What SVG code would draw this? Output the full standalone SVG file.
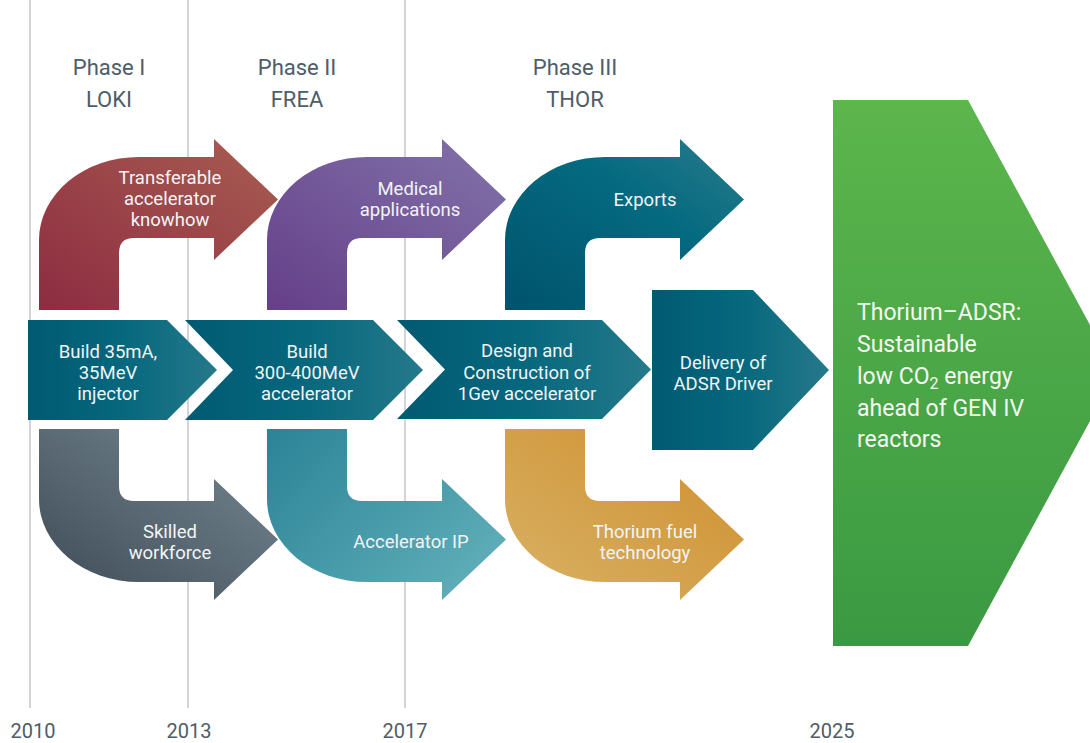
<svg xmlns="http://www.w3.org/2000/svg" width="1090" height="743" viewBox="0 0 1090 743">
<defs>
<style>
text{font-family:Roboto,"Open Sans","Liberation Sans",sans-serif;}
.lbl{fill:#f2f4f6;font-size:18.5px;text-anchor:middle;}
.phase{fill:#4e5d68;font-size:22px;text-anchor:middle;}
.year{fill:#4e5d68;font-size:20px;text-anchor:middle;}
.big{fill:#f4f8f2;font-size:23px;}
.grid{stroke:#c3c6ca;stroke-width:1.5;}
</style>
<linearGradient id="gRed" x1="0" y1="1" x2="1" y2="0"><stop offset="0" stop-color="#8d2c41"/><stop offset="1" stop-color="#a85d51"/></linearGradient>
<linearGradient id="gPur" x1="0" y1="1" x2="1" y2="0"><stop offset="0" stop-color="#653f89"/><stop offset="1" stop-color="#8273aa"/></linearGradient>
<linearGradient id="gTealT" x1="0" y1="1" x2="1" y2="0"><stop offset="0" stop-color="#00526c"/><stop offset="0.6" stop-color="#046a80"/><stop offset="1" stop-color="#2a7b8b"/></linearGradient>
<linearGradient id="gGray" x1="0" y1="1" x2="1" y2="0"><stop offset="0" stop-color="#3e4a55"/><stop offset="1" stop-color="#778a94"/></linearGradient>
<linearGradient id="gTealB" x1="0" y1="0" x2="1" y2="0.7"><stop offset="0" stop-color="#2b8396"/><stop offset="1" stop-color="#5eadb8"/></linearGradient>
<linearGradient id="gGold" x1="0" y1="1" x2="1" y2="0"><stop offset="0" stop-color="#d8b266"/><stop offset="1" stop-color="#cf8e2c"/></linearGradient>
<linearGradient id="gChev" x1="0" y1="0" x2="1" y2="0"><stop offset="0" stop-color="#005a72"/><stop offset="0.5" stop-color="#06677d"/><stop offset="1" stop-color="#25798a"/></linearGradient>
<linearGradient id="gGreen" x1="0" y1="0" x2="0" y2="1"><stop offset="0" stop-color="#5cb64c"/><stop offset="1" stop-color="#3a9942"/></linearGradient>
<path id="topArrow" d="M39,310 V240 A100,83 0 0 1 139,157 H214 V139 L278,199.5 L214,260 V238 H134 Q119,238 119,253 V310 Z"/>
<path id="botArrow" d="M39,429 V499 A100,83 0 0 0 139,582 H214 V600 L278,539.5 L214,479 V501 H134 Q119,501 119,486 V429 Z"/>
</defs>
<rect width="1090" height="743" fill="#ffffff"/>
<g id="timeline">
<line class="grid" x1="30" y1="0" x2="30" y2="708"/>
<line class="grid" x1="188" y1="0" x2="188" y2="708"/>
<line class="grid" x1="405" y1="0" x2="405" y2="708"/>
<text class="year" x="33" y="738">2010</text>
<text class="year" x="189" y="738">2013</text>
<text class="year" x="405" y="738">2017</text>
<text class="year" x="832" y="738">2025</text>
</g>
<g id="phases">
<text class="phase" x="109" y="75">Phase I</text>
<text class="phase" x="109" y="107">LOKI</text>
<text class="phase" x="297" y="75">Phase II</text>
<text class="phase" x="297" y="107">FREA</text>
<text class="phase" x="575" y="75">Phase III</text>
<text class="phase" x="575" y="107">THOR</text>
</g>
<g id="knowhow">
<use href="#topArrow" fill="url(#gRed)"/>
<text class="lbl" x="170" y="184">Transferable</text>
<text class="lbl" x="170" y="205">accelerator</text>
<text class="lbl" x="170" y="226">knowhow</text>
</g>
<g id="medical">
<use href="#topArrow" fill="url(#gPur)" transform="translate(228,0)"/>
<text class="lbl" x="410" y="195">Medical</text>
<text class="lbl" x="410" y="216">applications</text>
</g>
<g id="exports">
<use href="#topArrow" fill="url(#gTealT)" transform="translate(466,0)"/>
<text class="lbl" x="645" y="206">Exports</text>
</g>
<g id="workforce">
<use href="#botArrow" fill="url(#gGray)"/>
<text class="lbl" x="170" y="538">Skilled</text>
<text class="lbl" x="170" y="559">workforce</text>
</g>
<g id="accip">
<use href="#botArrow" fill="url(#gTealB)" transform="translate(228,0)"/>
<text class="lbl" x="411" y="548">Accelerator IP</text>
</g>
<g id="thoriumfuel">
<use href="#botArrow" fill="url(#gGold)" transform="translate(466,0)"/>
<text class="lbl" x="645" y="538">Thorium fuel</text>
<text class="lbl" x="645" y="559">technology</text>
</g>
<g id="loki">
<path d="M28,320 H167 L217,370 L167,420 H28 Z" fill="url(#gChev)"/>
<text class="lbl" x="108" y="358">Build 35mA,</text>
<text class="lbl" x="108" y="379">35MeV</text>
<text class="lbl" x="108" y="400">injector</text>
</g>
<g id="frea">
<path d="M185,320 H373 L423,370 L373,420 H185 L233,370 Z" fill="url(#gChev)"/>
<text class="lbl" x="307" y="358">Build</text>
<text class="lbl" x="307" y="379">300-400MeV</text>
<text class="lbl" x="307" y="400">accelerator</text>
</g>
<g id="thor">
<path d="M397,320 H602 L651,369.5 L602,419 H397 L445,369.5 Z" fill="url(#gChev)"/>
<text class="lbl" x="527" y="357">Design and</text>
<text class="lbl" x="527" y="379">Construction of</text>
<text class="lbl" x="527" y="400">1Gev accelerator</text>
</g>
<g id="driver">
<path d="M652,290 H753 L829,370 L753,450 H652 Z" fill="url(#gChev)"/>
<text class="lbl" x="723" y="369">Delivery of</text>
<text class="lbl" x="723" y="390">ADSR Driver</text>
</g>
<g id="thorium-adsr">
<path d="M833,100 H968 L1090,325 V421 L968,646 H833 Z" fill="url(#gGreen)"/>
<text class="big" x="857" y="320">Thorium–ADSR:</text>
<text class="big" x="857" y="352">Sustainable</text>
<text class="big" x="857" y="384">low CO<tspan font-size="16" dy="5">2</tspan><tspan dy="-5"> energy</tspan></text>
<text class="big" x="857" y="416">ahead of GEN IV</text>
<text class="big" x="857" y="447">reactors</text>
</g>
<g id="connectors"/>
</svg>
